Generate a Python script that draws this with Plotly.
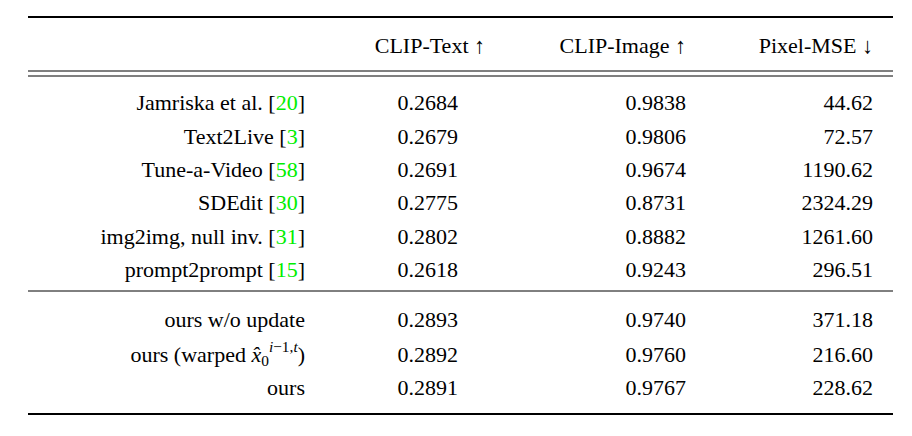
import plotly.graph_objects as go

headers = ["CLIP-Text ↑", "CLIP-Image ↑", "Pixel-MSE ↓"]
methods = ["Jamriska et al.", "Text2Live", "Tune-a-Video", "SDEdit", "img2img, null inv.", "prompt2prompt",
           "ours w/o update", "ours (warped <i>x̂</i><sub>0</sub><sup><i>i</i>−1,<i>t</i></sup>)", "ours"]
cites = ["20", "3", "58", "30", "31", "15", None, None, None]
clip_text = ["0.2684", "0.2679", "0.2691", "0.2775", "0.2802", "0.2618", "0.2893", "0.2892", "0.2891"]
clip_image = ["0.9838", "0.9806", "0.9674", "0.8731", "0.8882", "0.9243", "0.9740", "0.9760", "0.9767"]
pixel_mse = ["44.62", "72.57", "1190.62", "2324.29", "1261.60", "296.51", "371.18", "216.60", "228.62"]

row_y = [103, 137, 170, 203, 237, 270, 320, 355, 388]
header_y = 46
label_x = 305
col_x = [458, 686, 873]
header_x = [485, 686, 873]

labels = [m + (f' [<span style="color:#00ee00">{c}</span>]' if c else "") for m, c in zip(methods, cites)]

fig = go.Figure()
font = dict(family="Liberation Serif", size=22, color="black")
fig.add_trace(go.Scatter(x=[label_x]*len(labels), y=row_y, text=labels, mode="text",
                         textposition="middle left", textfont=font, hoverinfo="skip"))
for cx, vals in zip(col_x, [clip_text, clip_image, pixel_mse]):
    fig.add_trace(go.Scatter(x=[cx]*len(vals), y=row_y, text=vals, mode="text",
                             textposition="middle left", textfont=font, hoverinfo="skip"))
fig.add_trace(go.Scatter(x=header_x, y=[header_y]*3, text=headers, mode="text",
                         textposition="middle left", textfont=font, hoverinfo="skip"))
for line_y, w in [(16, 2.2), (70, 1), (75, 1), (290, 1), (413, 2.2)]:
    fig.add_shape(type="line", x0=28, x1=893, y0=line_y, y1=line_y, line=dict(color="black", width=w))
fig.update_layout(width=912, height=436, margin=dict(l=0, r=0, t=0, b=0),
                  plot_bgcolor="white", paper_bgcolor="white", showlegend=False,
                  xaxis=dict(range=[8, 920], visible=False, fixedrange=True),
                  yaxis=dict(range=[443, 7], visible=False, fixedrange=True))
fig.write_html("out.html")
